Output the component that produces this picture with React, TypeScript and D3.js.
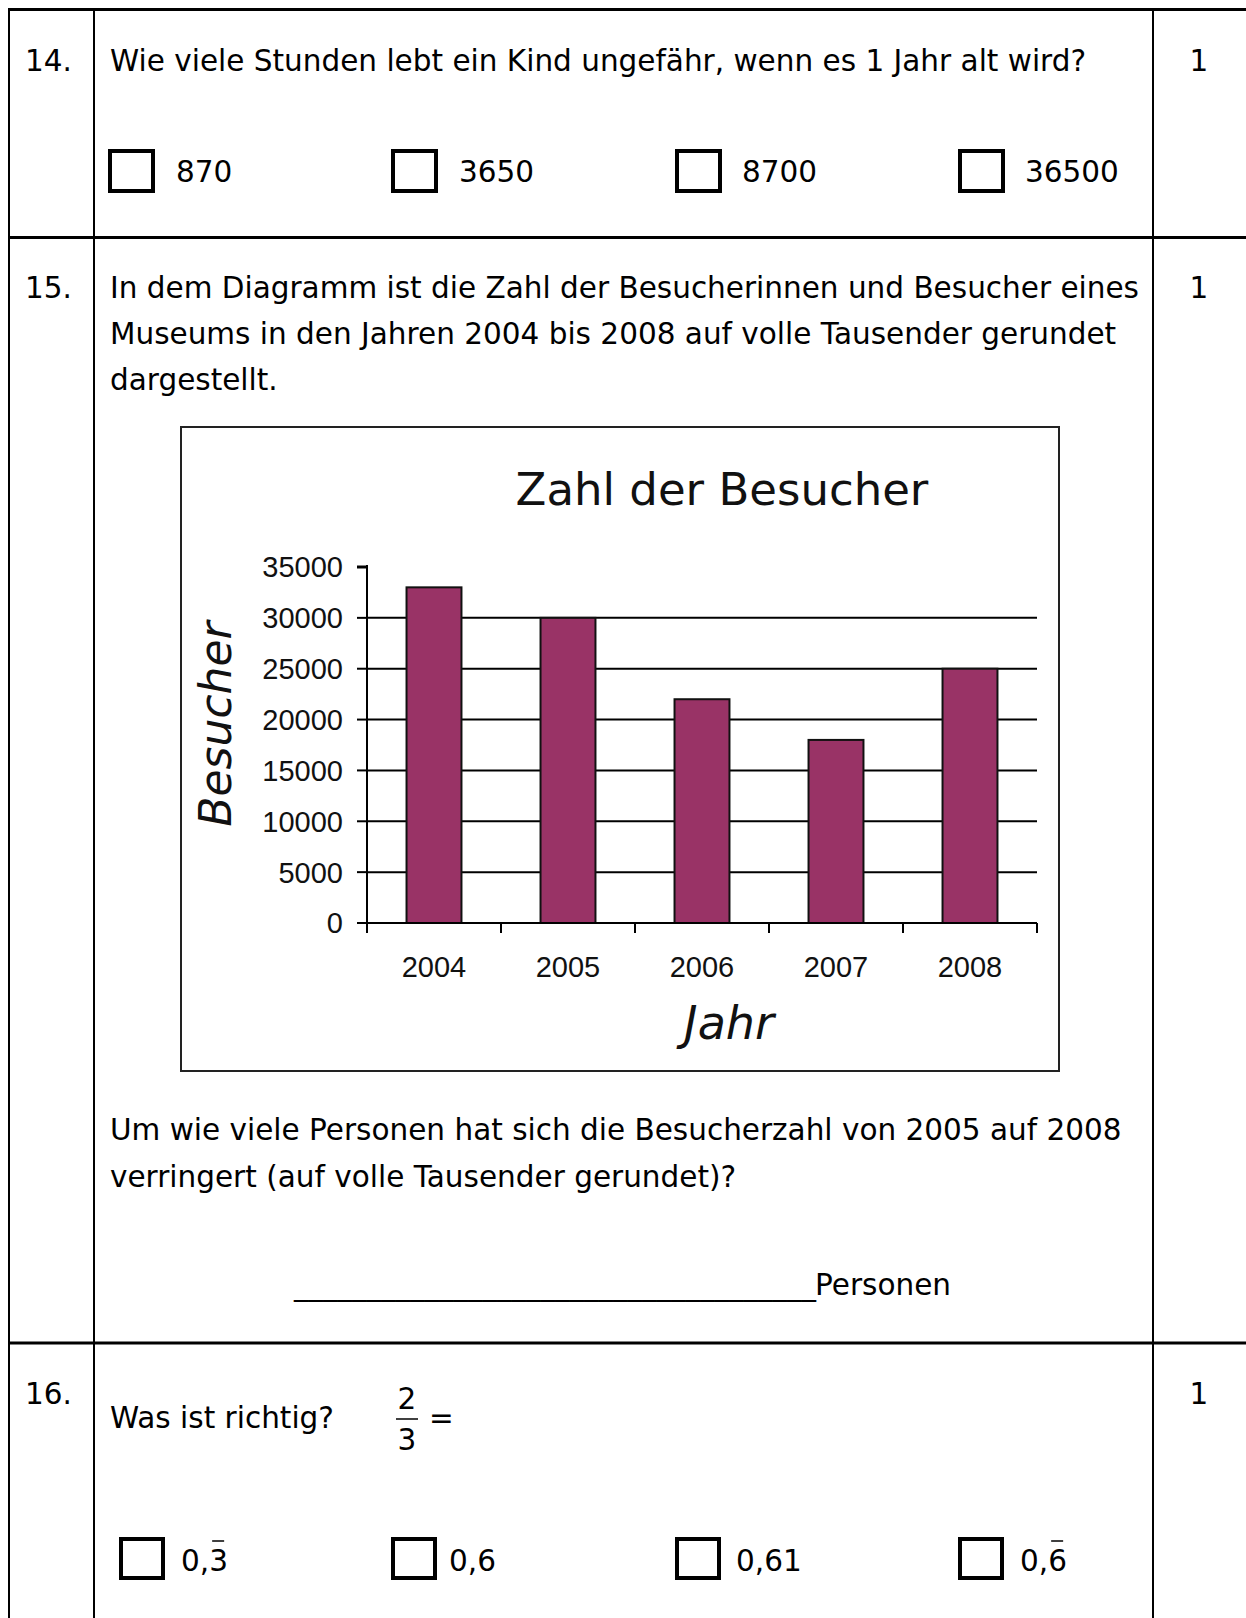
import * as d3 from "d3";

const years = ["2004", "2005", "2006", "2007", "2008"];
const visitors = [33000, 30000, 22000, 18000, 25000];
const yTicks = [0, 5000, 10000, 15000, 20000, 25000, 30000, 35000];

const q14Choices = ["870", "3650", "8700", "36500"];
const q16Choices = [
  { head: "0,", tail: "3", bar: true },
  { head: "0,6", tail: "", bar: false },
  { head: "0,61", tail: "", bar: false },
  { head: "0,", tail: "6", bar: true },
];

const W = 1246;
const H = 1618;
const font = "'DejaVu Sans', Verdana, sans-serif";
const chartFont = "'Liberation Sans', Arial, sans-serif";
const fs = 29.5;

// chart geometry
const plot = { left: 367, right: 1037, top: 567, bottom: 923 };

export default function App() {
  const x = d3
    .scaleBand()
    .domain(years)
    .range([plot.left, plot.right])
    .paddingInner(0.59)
    .paddingOuter(0.295);
  const xEdge = d3.scaleBand().domain(years).range([plot.left, plot.right]);
  const y = d3.scaleLinear().domain([0, 35000]).range([plot.bottom, plot.top]);

  const boxX14 = [110, 393, 677, 960];
  const labX14 = [176, 459, 742, 1025];
  const boxX16 = [121, 393, 677, 960];
  const labX16 = [181, 449, 736, 1020];

  return (
    <>
      <style>{"body{margin:0}"}</style>
      <svg width={W} height={H} style={{ display: "block" }} fontFamily={font}>
        <rect width={W} height={H} fill="#fff" />

        {/* table lines */}
        <g stroke="#000">
          <line x1={8} x2={W} y1={9.5} y2={9.5} strokeWidth={3} />
          <line x1={8} x2={W} y1={237.5} y2={237.5} strokeWidth={3} />
          <line x1={8} x2={W} y1={1343} y2={1343} strokeWidth={3} />
          <line x1={9} x2={9} y1={8} y2={H} strokeWidth={2} />
          <line x1={94} x2={94} y1={8} y2={H} strokeWidth={2} />
          <line x1={1153} x2={1153} y1={8} y2={H} strokeWidth={2} />
        </g>

        {/* question 14 */}
        <g fontSize={fs} fill="#000">
          <text x={25} y={71}>14.</text>
          <text x={110} y={71}>Wie viele Stunden lebt ein Kind ungefähr, wenn es 1 Jahr alt wird?</text>
          <text x={1199} y={71} textAnchor="middle">1</text>
          {q14Choices.map((c, i) => (
            <g key={c}>
              <rect x={boxX14[i]} y={151} width={43} height={40} fill="none" stroke="#000" strokeWidth={4} />
              <text x={labX14[i]} y={182}>{c}</text>
            </g>
          ))}
        </g>

        {/* question 15 */}
        <g fontSize={fs} fill="#000">
          <text x={25} y={297.5}>15.</text>
          <text x={1199} y={297.5} textAnchor="middle">1</text>
          <text x={110} y={297.5}>In dem Diagramm ist die Zahl der Besucherinnen und Besucher eines</text>
          <text x={110} y={343.5}>Museums in den Jahren 2004 bis 2008 auf volle Tausender gerundet</text>
          <text x={110} y={390}>dargestellt.</text>
          <text x={110} y={1140}>Um wie viele Personen hat sich die Besucherzahl von 2005 auf 2008</text>
          <text x={110} y={1187}>verringert (auf volle Tausender gerundet)?</text>
          <text x={294} y={1295} fontSize={29}>____________________________________</text>
          <text x={815} y={1295}>Personen</text>
        </g>

        {/* chart */}
        <g>
          <rect x={181} y={427} width={878} height={644} fill="#fff" stroke="#222" strokeWidth={2} />
          <text x={722} y={505} textAnchor="middle" fontSize={45} fill="#111">Zahl der Besucher</text>

          {/* gridlines */}
          <g stroke="#000" strokeWidth={2}>
            {yTicks.filter((t) => t > 0 && t < 35000).map((t) => (
              <line key={t} x1={plot.left} x2={plot.right} y1={y(t)} y2={y(t)} />
            ))}
          </g>

          {/* bars */}
          <g>
            {years.map((yr, i) => (
              <rect
                key={yr}
                x={x(yr)}
                y={y(visitors[i])}
                width={x.bandwidth()}
                height={y(0) - y(visitors[i])}
                fill="#993366"
                stroke="#111"
                strokeWidth={2}
              />
            ))}
          </g>

          {/* axes */}
          <g stroke="#000" strokeWidth={2}>
            <line x1={plot.left} x2={plot.left} y1={y(35000) - 2} y2={y(0) + 10} />
            <line x1={plot.left - 10} x2={plot.right} y1={y(0)} y2={y(0)} />
            {yTicks.map((t) => (
              <line key={t} x1={plot.left - 10} x2={plot.left} y1={y(t)} y2={y(t)} strokeWidth={t === 35000 ? 3 : 2} />
            ))}
            {[...years.map((yr) => xEdge(yr) as number), plot.right].map((px, i) => (
              <line key={i} x1={px} x2={px} y1={y(0)} y2={y(0) + 10} />
            ))}
          </g>

          {/* tick labels */}
          <g fontFamily={chartFont} fontSize={29} fill="#111">
            {yTicks.map((t) => (
              <text key={t} x={343} y={y(t)} dy="0.36em" textAnchor="end">{t}</text>
            ))}
            {years.map((yr) => (
              <text key={yr} x={(xEdge(yr) as number) + xEdge.bandwidth() / 2} y={977} textAnchor="middle">{yr}</text>
            ))}
          </g>

          <text x={729} y={1039} textAnchor="middle" fontSize={46} fontStyle="italic" fill="#111">Jahr</text>
          <text
            transform="translate(231,724) rotate(-90)"
            textAnchor="middle"
            fontSize={44}
            fontStyle="italic"
            fill="#111"
          >
            Besucher
          </text>
        </g>

        {/* question 16 */}
        <g fontSize={fs} fill="#000">
          <text x={25} y={1404}>16.</text>
          <text x={1199} y={1404} textAnchor="middle">1</text>
          <text x={110} y={1428}>Was ist richtig?</text>
          <text x={407} y={1409} textAnchor="middle">2</text>
          <line x1={396} x2={418} y1={1419} y2={1419} stroke="#000" strokeWidth={1.5} />
          <text x={407} y={1450} textAnchor="middle">3</text>
          <text x={429} y={1428}>=</text>
          {q16Choices.map((c, i) => (
            <g key={i}>
              <rect x={boxX16[i]} y={1539} width={42} height={39} fill="none" stroke="#000" strokeWidth={4} />
              <text x={labX16[i]} y={1571}>
                {c.head}
                {c.tail}
              </text>
              {c.bar && (
                <line
                  x1={labX16[i] + fs * 0.954 + 3}
                  x2={labX16[i] + fs * 0.954 + 15}
                  y1={1541}
                  y2={1541}
                  stroke="#000"
                  strokeWidth={1.5}
                />
              )}
            </g>
          ))}
        </g>
      </svg>
    </>
  );
}
